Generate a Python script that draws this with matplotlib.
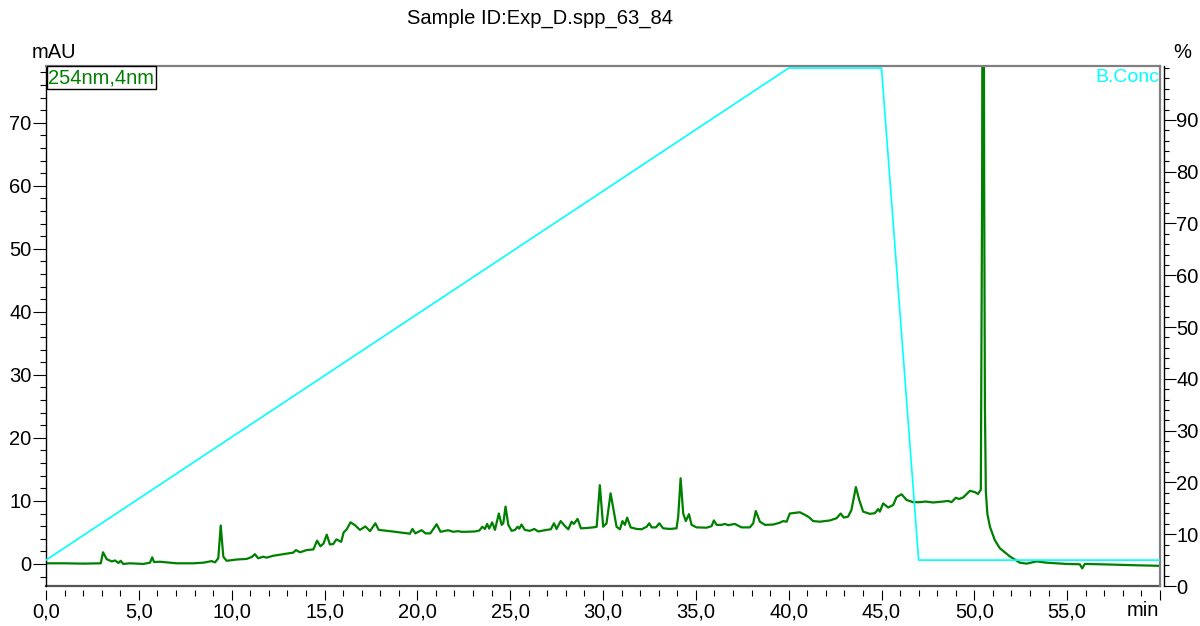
"""
Chromatogram plot: UV trace at 254 nm with the B.Conc gradient on a second axis.
"""

import matplotlib
matplotlib.use("AGG")

import matplotlib.pyplot as plt
import matplotlib.ticker as mticker

plt.rcParams["font.family"] = ["Liberation Sans", "DejaVu Sans"]

# ── Data ────────────────────────────────────────────────────────────────────
SAMPLE_ID = "Exp_D.spp_63_84"
CHANNEL = "254nm,4nm"

# UV trace (min, mAU)
uv_time = [
    0.0, 1.0, 2.0, 2.95, 3.07, 3.27, 3.54, 3.72, 3.9, 4.02, 4.16, 4.52, 5.24,
    5.6, 5.72, 5.82, 6.14, 6.5, 7.04, 7.93, 8.47, 8.92, 9.1, 9.28, 9.41, 9.55,
    9.73, 10.27, 10.81, 11.08, 11.25, 11.43, 11.7, 11.88, 12.24, 12.78, 13.14,
    13.32, 13.46, 13.68, 14.04, 14.4, 14.6, 14.78, 14.95, 15.12, 15.29, 15.47,
    15.64, 15.9, 16.03, 16.2, 16.4, 16.64, 16.91, 17.2, 17.45, 17.74, 17.92,
    18.52, 19.06, 19.6, 19.74, 19.89, 20.23, 20.45, 20.7, 21.04, 21.25, 21.66,
    21.93, 22.2, 22.38, 22.65, 23.1, 23.34, 23.5, 23.64, 23.76, 23.87, 24.03,
    24.18, 24.39, 24.54, 24.63, 24.75, 24.9, 25.08, 25.26, 25.4, 25.49, 25.61,
    25.79, 26.06, 26.3, 26.51, 26.96, 27.19, 27.36, 27.5, 27.72, 27.95, 28.13,
    28.31, 28.43, 28.63, 28.81, 29.12, 29.47, 29.66, 29.83, 30.01, 30.19,
    30.41, 30.55, 30.73, 30.91, 31.05, 31.18, 31.3, 31.49, 31.81, 32.08,
    32.35, 32.49, 32.62, 32.85, 33.03, 33.24, 33.6, 33.96, 34.05, 34.18,
    34.32, 34.46, 34.63, 34.77, 35.04, 35.58, 35.85, 35.97, 36.12, 36.39,
    36.56, 36.74, 37.1, 37.46, 37.91, 38.09, 38.23, 38.45, 38.72, 39.17,
    39.53, 39.7, 39.89, 40.06, 40.33, 40.6, 40.87, 41.1, 41.32, 41.68, 42.22,
    42.58, 42.8, 42.97, 43.2, 43.38, 43.62, 43.8, 44.01, 44.37, 44.64, 44.82,
    44.91, 45.09, 45.36, 45.63, 45.81, 46.08, 46.35, 46.7, 47.06, 47.37,
    47.78, 48.32, 48.59, 48.77, 49.0, 49.18, 49.4, 49.76, 50.03, 50.2, 50.35,
    50.42, 50.47, 50.53, 50.57, 50.62, 50.7, 50.84, 51.1, 51.37, 51.91, 52.45,
    52.81, 53.35, 53.89, 54.96, 55.68, 55.81, 55.95, 56.76, 58.55, 60.0,
]
uv_mau = [
    0.1, 0.1, 0.05, 0.1, 1.85, 0.75, 0.4, 0.55, 0.15, 0.5, 0.0, 0.1, 0.0,
    0.2, 1.05, 0.3, 0.35, 0.25, 0.1, 0.1, 0.2, 0.45, 0.25, 0.9, 6.1, 1.15,
    0.5, 0.7, 0.8, 1.1, 1.55, 0.9, 1.15, 1.0, 1.3, 1.55, 1.7,
    1.8, 2.2, 1.85, 2.2, 2.3, 3.7, 2.8, 3.25, 4.65, 3.1, 3.15,
    3.9, 3.5, 5.0, 5.5, 6.6, 6.15, 5.4, 5.95, 5.2, 6.45, 5.4,
    5.2, 5.0, 4.8, 5.55, 4.85, 5.35, 4.85, 4.85, 6.3, 5.1, 5.35,
    5.1, 5.2, 5.1, 5.1, 5.15, 5.3, 5.9, 5.55, 6.35, 5.6, 6.6,
    5.4, 8.0, 6.2, 6.45, 9.1, 6.2, 5.25, 5.4, 5.9, 5.6, 6.25,
    5.4, 5.25, 5.55, 5.15, 5.4, 5.5, 6.45, 5.55, 6.8, 6.0, 5.5,
    6.7, 6.35, 7.15, 5.65, 5.7, 5.8, 5.9, 12.5, 5.9, 6.45,
    11.2, 8.85, 5.9, 5.5, 6.8, 6.2, 7.35, 5.8, 5.55, 5.5,
    5.9, 6.45, 5.8, 5.8, 6.45, 5.65, 5.55, 5.65, 7.5, 13.6,
    8.0, 6.8, 7.9, 6.2, 5.8, 5.75, 6.0, 6.9, 6.2, 6.2,
    6.35, 6.15, 6.35, 5.8, 5.8, 6.45, 8.4, 6.7, 6.2, 6.25,
    6.55, 6.8, 6.7, 8.0, 8.1, 8.2, 7.8, 7.4, 6.8, 6.7, 6.9,
    7.25, 8.0, 7.35, 7.5, 8.55, 12.2, 10.15, 8.3, 7.95, 8.05, 8.7,
    8.3, 9.6, 8.95, 9.35, 10.6, 11.05, 10.15, 9.8, 9.8, 9.9,
    9.75, 9.9, 10.0, 9.8, 10.5, 10.3, 10.55, 11.6, 11.4, 11.1, 11.8,
    60.0, 160.0, 60.0, 25.0, 11.5, 8.0, 5.9, 3.8, 2.5, 1.2, 0.2,
    0.05, 0.4, 0.2, 0.0, -0.05, -0.7, 0.0, -0.05, -0.2, -0.3,
]

# Pump program, solvent B (min, %)
grad_time = [0.0, 40.0, 45.0, 47.0, 60.0]
grad_conc = [5.0, 100.0, 100.0, 5.0, 5.0]

# ── Style ───────────────────────────────────────────────────────────────────
UV_COLOR = "#008000"
GRAD_COLOR = "#00ffff"
FRAME_GRAY = "#808080"
FS = 14.5

W, H = 1200, 626


def comma_fmt(x, pos):
    # last tick carries the unit caption instead of a number
    if x >= 60:
        return ""
    return f"{x:.1f}".replace(".", ",")


fig = plt.figure(figsize=(W / 100, H / 100), dpi=100, facecolor="white")
ax = fig.add_axes([46 / W, 1 - 586 / H, (1160 - 46) / W, (586 - 66) / H])
ax2 = ax.twinx()

# UV trace
ax.plot(uv_time, uv_mau, color=UV_COLOR, linewidth=1.6, solid_joinstyle="round")
ax.set_xlim(0, 60)
ax.set_ylim(-3.5, 79)

# gradient
ax2.plot(grad_time, grad_conc, color=GRAD_COLOR, linewidth=1.2)
ax2.set_ylim(0, 100.4)

# x axis: ticks sit a little below the frame
ax.xaxis.set_major_locator(mticker.MultipleLocator(5))
ax.xaxis.set_minor_locator(mticker.MultipleLocator(1))
ax.xaxis.set_major_formatter(mticker.FuncFormatter(comma_fmt))
ax.spines["bottom"].set_position(("outward", 3))
ax.spines["bottom"].set_visible(False)
ax.tick_params(axis="x", which="major", direction="out", length=7.2, width=0.8,
               pad=2, labelsize=FS, colors="black")
ax.tick_params(axis="x", which="minor", direction="out", length=4.3, width=0.8)

# left axis
ax.yaxis.set_major_locator(mticker.MultipleLocator(10))
ax.yaxis.set_minor_locator(mticker.MultipleLocator(2))
ax.tick_params(axis="y", which="major", direction="out", length=9.4, width=0.8,
               pad=1, labelsize=FS)
ax.tick_params(axis="y", which="minor", direction="out", length=4.3, width=0.8)
ax.spines["left"].set_color("black")
ax.spines["left"].set_linewidth(1.0)
ax.spines["top"].set_color(FRAME_GRAY)
ax.spines["top"].set_linewidth(1.6)
ax.spines["right"].set_color(FRAME_GRAY)
ax.spines["right"].set_linewidth(1.6)

# bottom frame line
ax.plot([0, 1], [0, 0], transform=ax.transAxes, color="#555555",
        linewidth=1.6, clip_on=False)

# right axis (% B), offset from the frame
for side in ("left", "top", "bottom"):
    ax2.spines[side].set_visible(False)
ax2.spines["right"].set_position(("outward", 3))
ax2.spines["right"].set_color("black")
ax2.spines["right"].set_linewidth(1.0)
ax2.yaxis.set_major_locator(mticker.FixedLocator(range(0, 100, 10)))
ax2.yaxis.set_minor_locator(mticker.MultipleLocator(2))
ax2.tick_params(axis="y", which="major", direction="out", length=8.6, width=0.8,
                pad=0, labelsize=FS)
ax2.tick_params(axis="y", which="minor", direction="out", length=3.6, width=0.8)

# channel label box
ax.text(0.002, 0.996, CHANNEL, transform=ax.transAxes, ha="left", va="top",
        fontsize=FS, color=UV_COLOR,
        bbox=dict(boxstyle="square,pad=0.08", fc="white", ec="black", lw=1.0))

# series label for the gradient
ax2.text(0.999, 0.995, "B.Conc", transform=ax2.transAxes, ha="right", va="top",
         fontsize=14, color=GRAD_COLOR)

# axis captions and header
fig.text(54 / W, 1 - 52 / H, "mAU", ha="center", va="center", fontsize=FS)
fig.text(1182 / W, 1 - 52 / H, "%", ha="center", va="center", fontsize=FS)
fig.text(1143 / W, 1 - 611 / H, "min", ha="center", va="center", fontsize=FS)
fig.text(540 / W, 1 - 18 / H, f"Sample ID:{SAMPLE_ID}", ha="center", va="center",
         fontsize=FS)

fig.savefig("out.png", dpi=100, facecolor="white")
plt.close(fig)
